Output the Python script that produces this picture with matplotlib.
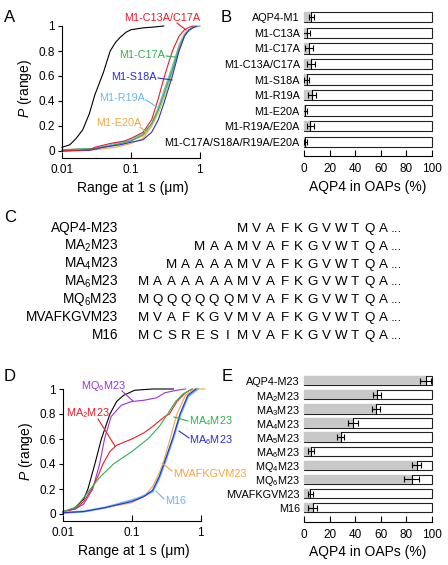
import matplotlib
matplotlib.use("Agg")
import matplotlib.pyplot as plt
from matplotlib.lines import Line2D
import numpy as np

plt.rcParams['font.family'] = ['Liberation Sans', 'DejaVu Sans']
plt.rcParams['mathtext.fontset'] = 'custom'
plt.rcParams['mathtext.rm'] = 'Liberation Sans'
plt.rcParams['mathtext.it'] = 'Liberation Sans:italic'
plt.rcParams['mathtext.default'] = 'regular'

W, H = 448, 565

# ---------------- Data ----------------
# Panel A: cumulative distributions of range at 1 s (um)
a_black_x = [0.01, 0.013, 0.016, 0.02, 0.025, 0.03, 0.04, 0.05, 0.06, 0.07, 0.085, 0.1, 0.15, 0.2, 0.3]
a_black_p = [0.03, 0.05, 0.10, 0.17, 0.30, 0.45, 0.63, 0.80, 0.87, 0.91, 0.95, 0.97, 0.985, 0.99, 1.0]

a_red_x = [0.01, 0.025, 0.03, 0.05, 0.08, 0.1, 0.15, 0.2, 0.25, 0.3, 0.35, 0.4, 0.5, 0.6, 0.7, 0.8]
a_red_p = [0.0, 0.01, 0.03, 0.06, 0.08, 0.10, 0.15, 0.25, 0.42, 0.58, 0.70, 0.80, 0.92, 0.97, 0.99, 1.0]

a_green_x = [0.01, 0.03, 0.05, 0.1, 0.15, 0.2, 0.25, 0.3, 0.4, 0.5, 0.6, 0.7, 0.85]
a_green_p = [0.01, 0.02, 0.04, 0.08, 0.13, 0.22, 0.33, 0.45, 0.65, 0.82, 0.92, 0.97, 1.0]

a_blue_x = [0.01, 0.025, 0.04, 0.07, 0.1, 0.15, 0.2, 0.25, 0.3, 0.4, 0.5, 0.6, 0.7, 0.9]
a_blue_p = [0.0, 0.005, 0.03, 0.05, 0.07, 0.09, 0.15, 0.25, 0.38, 0.60, 0.80, 0.92, 0.97, 1.0]

a_lblue_x = [0.01, 0.03, 0.05, 0.1, 0.15, 0.2, 0.25, 0.3, 0.4, 0.5, 0.6, 0.8, 1.0]
a_lblue_p = [0.01, 0.02, 0.05, 0.09, 0.14, 0.22, 0.35, 0.48, 0.68, 0.84, 0.93, 0.99, 1.0]

a_orange_x = [0.01, 0.03, 0.06, 0.1, 0.15, 0.2, 0.25, 0.3, 0.4, 0.5, 0.6, 0.8, 1.0]
a_orange_p = [0.0, 0.01, 0.03, 0.06, 0.10, 0.20, 0.33, 0.46, 0.67, 0.85, 0.94, 0.99, 1.0]

a_yellow_x = [0.01, 0.03, 0.05, 0.1, 0.15, 0.2, 0.25, 0.3, 0.4, 0.5, 0.6, 0.8, 1.0]
a_yellow_p = [0.01, 0.02, 0.04, 0.08, 0.12, 0.20, 0.30, 0.42, 0.63, 0.82, 0.93, 0.99, 1.0]

# Panel B
b_labels = ['AQP4-M1', 'M1-C13A', 'M1-C17A', 'M1-C13A/C17A', 'M1-S18A', 'M1-R19A',
            'M1-E20A', 'M1-R19A/E20A', 'M1-C17A/S18A/R19A/E20A']
b_values = [5.7, 2.0, 4.0, 5.7, 2.0, 6.5, 1.0, 5.0, 1.0]
b_errors = [2.0, 2.5, 3.0, 3.0, 2.0, 3.0, 1.5, 2.5, 1.0]

# Panel C
c_labels = ['AQP4-M23', 'MA$_2$M23', 'MA$_4$M23', 'MA$_6$M23', 'MQ$_6$M23', 'MVAFKGVM23', 'M16']
c_seqs = ['MVAFKGVWTQA', 'MAAMVAFKGVWTQA', 'MAAAAMVAFKGVWTQA', 'MAAAAAAMVAFKGVWTQA',
          'MQQQQQQMVAFKGVWTQA', 'MVAFKGVMVAFKGVWTQA', 'MCSRESIMVAFKGVWTQA']

# Panel D
d_black_x = [0.01, 0.015, 0.02, 0.023, 0.029, 0.036, 0.048, 0.06, 0.076, 0.1, 0.11, 0.2, 0.4]
d_black_p = [0.015, 0.05, 0.12, 0.20, 0.40, 0.60, 0.80, 0.90, 0.95, 0.98, 0.99, 1.0, 1.0]

d_mq6_x = [0.01, 0.015, 0.02, 0.027, 0.034, 0.04, 0.05, 0.07, 0.1, 0.15, 0.23, 0.3, 0.45, 0.6]
d_mq6_p = [0.02, 0.04, 0.08, 0.20, 0.40, 0.60, 0.78, 0.87, 0.90, 0.91, 0.93, 0.97, 0.99, 1.0]

d_ma2_x = [0.01, 0.015, 0.02, 0.026, 0.032, 0.038, 0.048, 0.06, 0.1, 0.15, 0.2, 0.3, 0.35, 0.45, 0.6, 0.75]
d_ma2_p = [0.02, 0.04, 0.10, 0.20, 0.30, 0.40, 0.50, 0.55, 0.60, 0.65, 0.70, 0.78, 0.80, 0.90, 0.97, 1.0]

d_ma4_x = [0.01, 0.015, 0.018, 0.025, 0.035, 0.054, 0.1, 0.17, 0.25, 0.33, 0.43, 0.55, 0.75]
d_ma4_p = [0.02, 0.05, 0.10, 0.20, 0.30, 0.40, 0.50, 0.60, 0.70, 0.80, 0.90, 0.96, 1.0]

d_ma6_x = [0.01, 0.02, 0.04, 0.1, 0.15, 0.2, 0.25, 0.3, 0.4, 0.5, 0.65, 0.85]
d_ma6_p = [0.01, 0.02, 0.05, 0.10, 0.14, 0.19, 0.30, 0.42, 0.62, 0.80, 0.95, 1.0]

d_mvaf_x = [0.01, 0.02, 0.04, 0.1, 0.15, 0.2, 0.25, 0.28, 0.35, 0.45, 0.6, 0.8, 1.15]
d_mvaf_p = [0.01, 0.02, 0.05, 0.09, 0.14, 0.22, 0.33, 0.40, 0.58, 0.80, 0.95, 1.0, 1.0]

d_m16_x = [0.01, 0.02, 0.04, 0.1, 0.13, 0.2, 0.25, 0.3, 0.4, 0.5, 0.65, 0.9]
d_m16_p = [0.01, 0.02, 0.05, 0.11, 0.13, 0.18, 0.29, 0.41, 0.61, 0.79, 0.94, 1.0]

# Panel E
e_labels = ['AQP4-M23', 'MA$_2$M23', 'MA$_3$M23', 'MA$_4$M23', 'MA$_5$M23', 'MA$_6$M23',
            'MQ$_4$M23', 'MQ$_6$M23', 'MVAFKGVM23', 'M16']
e_values = [95, 57, 56, 38.5, 28.6, 5.7, 88, 84, 5, 7]
e_errors = [4, 3, 3, 4, 2.6, 2.5, 3.5, 5.5, 2, 3.5]

# ---------------- Styles ----------------
RED = '#ec1c24'
GREEN = '#2fb34a'
BLUE = '#2b2fd6'
LBLUE = '#6cb8ea'
ORANGE = '#f6a53f'
PURPLE = '#9933dd'
YELLOW = '#c9c845'
GRAY = '#c8c8c8'

fig = plt.figure(figsize=(W / 100, H / 100), dpi=100)


def fx(px):
    return px / W


def fy(py):
    return 1 - py / H


def fig_line(x1, y1, x2, y2, color):
    fig.add_artist(Line2D([fx(x1), fx(x2)], [fy(y1), fy(y2)], transform=fig.transFigure,
                          color=color, lw=0.8))


def style_cdf_axes(ax):
    ax.set_xscale('log')
    ax.set_xlim(0.01, 1.15)
    ax.set_ylim(0, 1)
    for s in ['top', 'right']:
        ax.spines[s].set_visible(False)
    ax.spines['bottom'].set_position(('outward', 4.7))
    ax.spines['bottom'].set_bounds(0.01, 1)
    ax.spines['left'].set_bounds(0, 1)
    ax.spines['left'].set_linewidth(0.8)
    ax.spines['bottom'].set_linewidth(0.8)
    ax.set_xticks([0.01, 0.1, 1])
    ax.set_xticklabels(['0.01', '0.1', '1'])
    ax.xaxis.set_minor_locator(matplotlib.ticker.NullLocator())
    ax.set_yticks([0, 0.2, 0.4, 0.6, 0.8, 1.0])
    ax.set_yticklabels(['0', '0.2', '0.4', '0.6', '0.8', '1'])
    ax.tick_params(axis='x', direction='in', length=4, width=0.8, labelsize=8.5, pad=5)
    ax.tick_params(axis='y', direction='out', length=3, width=0.8, labelsize=8.5, pad=2)
    ax.set_xlabel('Range at 1 s (\u03bcm)', fontsize=10, labelpad=3)
    ax.set_ylabel(r'$\mathit{P}$ (range)', fontsize=10, labelpad=3)
    ax.patch.set_visible(False)


def style_bar_axes(ax, labels, values, errors):
    n = len(labels)
    y = np.arange(n)
    bg = ax.barh(y, [100] * n, height=0.66, color='white', edgecolor='#222222',
                 linewidth=0.8, zorder=1)
    for p in bg:
        p.set_clip_on(False)
    ax.barh(y, values, height=0.66, color=GRAY, edgecolor='none', zorder=2)
    ax.vlines(values, y - 0.33, y + 0.33, color='black', lw=0.8, zorder=3)
    ax.errorbar(values, y, xerr=errors, fmt='none', ecolor='black', elinewidth=0.8,
                capsize=2.2, capthick=0.8, zorder=4)
    ax.set_xlim(0, 100)
    ax.set_ylim(n - 0.5, -0.5)
    ax.set_yticks(y)
    ax.set_yticklabels(labels)
    for s in ['top', 'right', 'left']:
        ax.spines[s].set_visible(False)
    ax.spines['bottom'].set_position(('outward', 5))
    ax.spines['bottom'].set_linewidth(0.8)
    ax.set_xticks([0, 20, 40, 60, 80, 100])
    ax.tick_params(axis='x', direction='in', length=4, width=0.8, labelsize=8.5, pad=5)
    ax.tick_params(axis='y', length=0, labelsize=7.8, pad=3)
    ax.set_xlabel('AQP4 in OAPs (%)', fontsize=10, labelpad=3)
    ax.patch.set_visible(False)


# ---------------- Panel A ----------------
axA = fig.add_axes([fx(62), fy(151), (204 - 62) / W, 125 / H])
axA.plot(a_black_x, a_black_p, color='black', lw=0.8, clip_on=False)
axA.plot(a_yellow_x, a_yellow_p, color=YELLOW, lw=0.8, clip_on=False)
axA.plot(a_orange_x, a_orange_p, color=ORANGE, lw=0.8, clip_on=False)
axA.plot(a_lblue_x, a_lblue_p, color=LBLUE, lw=0.8, clip_on=False)
axA.plot(a_green_x, a_green_p, color=GREEN, lw=0.8, clip_on=False)
axA.plot(a_blue_x, a_blue_p, color=BLUE, lw=0.8, clip_on=False)
axA.plot(a_red_x, a_red_p, color=RED, lw=0.8, clip_on=False)
style_cdf_axes(axA)

fs_lab = 7.8
fig.text(fx(162), fy(18), 'M1-C13A/C17A', color=RED, fontsize=fs_lab, ha='center', va='center')
fig_line(177, 23, 186, 30, RED)
fig.text(fx(165), fy(55), 'M1-C17A', color=GREEN, fontsize=fs_lab, ha='right', va='center')
fig_line(166, 56, 175, 57, GREEN)
fig.text(fx(157), fy(77), 'M1-S18A', color=BLUE, fontsize=fs_lab, ha='right', va='center')
fig_line(158, 78, 172, 80, BLUE)
fig.text(fx(145), fy(98), 'M1-R19A', color=LBLUE, fontsize=fs_lab, ha='right', va='center')
fig_line(146, 100, 157, 107, LBLUE)
fig.text(fx(141), fy(123), 'M1-E20A', color=ORANGE, fontsize=fs_lab, ha='right', va='center')
fig_line(140, 127, 146, 132, ORANGE)

# ---------------- Panel B ----------------
axB = fig.add_axes([fx(304), fy(149.5), 128 / W, 140 / H])
style_bar_axes(axB, b_labels, b_values, b_errors)

# ---------------- Panel C ----------------
col0 = 143.5
dcol = 14.1
ncol = 18
for i, (lab, seq) in enumerate(zip(c_labels, c_seqs)):
    ybase = 232 + i * 17.8
    fig.text(fx(118), fy(ybase), lab, fontsize=9.8, ha='right', va='baseline')
    start = ncol - len(seq)
    for k, ch in enumerate(seq):
        fig.text(fx(col0 + (start + k) * dcol), fy(ybase), ch, fontsize=9.6,
                 ha='center', va='baseline')
    fig.text(fx(col0 + (ncol - 1) * dcol + 8), fy(ybase), '...', fontsize=9.6,
             ha='left', va='baseline')

# ---------------- Panel D ----------------
axD = fig.add_axes([fx(63), fy(514), 142 / W, 125 / H])
axD.plot(d_mq6_x, d_mq6_p, color=PURPLE, lw=0.8, clip_on=False)
axD.plot(d_black_x, d_black_p, color='black', lw=0.8, clip_on=False)
axD.plot(d_ma2_x, d_ma2_p, color=RED, lw=0.8, clip_on=False)
axD.plot(d_ma4_x, d_ma4_p, color=GREEN, lw=0.8, clip_on=False)
axD.plot(d_mvaf_x, d_mvaf_p, color=ORANGE, lw=0.8, clip_on=False)
axD.plot(d_m16_x, d_m16_p, color=LBLUE, lw=1.6, clip_on=False)
axD.plot(d_ma6_x, d_ma6_p, color=BLUE, lw=0.8, clip_on=False)
style_cdf_axes(axD)

fig.text(fx(103), fy(386), 'MQ$_6$M23', color=PURPLE, fontsize=fs_lab, ha='center', va='center')
fig_line(122, 391, 133, 401, PURPLE)
fig.text(fx(88), fy(413), 'MA$_2$M23', color=RED, fontsize=fs_lab, ha='center', va='center')
fig_line(98, 419, 115, 446, RED)
fig.text(fx(189), fy(421), 'MA$_4$M23', color=GREEN, fontsize=fs_lab, ha='left', va='center')
fig_line(188, 421, 174, 417, GREEN)
fig.text(fx(189), fy(440), 'MA$_6$M23', color=BLUE, fontsize=fs_lab, ha='left', va='center')
fig_line(189, 438, 179, 431, BLUE)
fig.text(fx(173), fy(474), 'MVAFKGVM23', color=ORANGE, fontsize=fs_lab, ha='left', va='center')
fig_line(172, 471, 162, 463, ORANGE)
fig.text(fx(165), fy(501), 'M16', color=LBLUE, fontsize=fs_lab, ha='left', va='center')
fig_line(164, 499, 156, 491, LBLUE)

# ---------------- Panel E ----------------
axE = fig.add_axes([fx(304), fy(514.8), 128 / W, 141.2 / H])
style_bar_axes(axE, e_labels, e_values, e_errors)

# ---------------- Panel letters ----------------
for lt, x, y in [('A', 4, 22), ('B', 221, 22), ('C', 4, 222), ('D', 4, 381), ('E', 222, 381)]:
    fig.text(fx(x), fy(y), lt, fontsize=12, ha='left', va='baseline')

fig.savefig('out.png', dpi=100)
